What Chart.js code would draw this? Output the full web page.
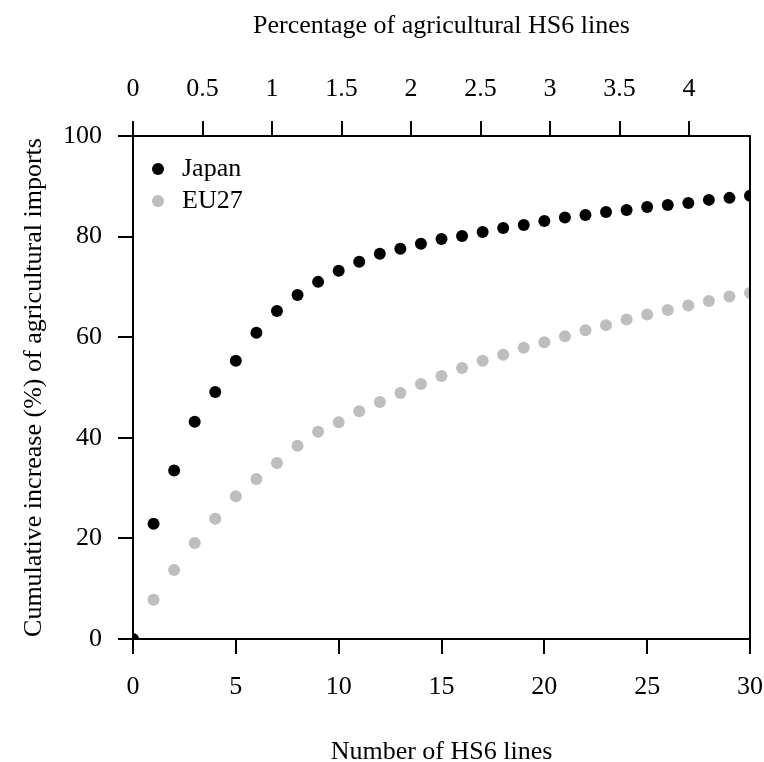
<!DOCTYPE html>
<html>
<head>
<meta charset="utf-8">
<script src="https://cdn.jsdelivr.net/npm/chart.js@4.4.1/dist/chart.umd.min.js"></script>
<style>
  html, body { margin: 0; padding: 0; background: #fff; }
  canvas { display: block; }
</style>
</head>
<body>
<canvas id="cumChart" width="764" height="762"></canvas>
<script>
// number of HS6 lines (bottom axis)
const hs6Lines = [0, 1, 2, 3, 4, 5, 6, 7, 8, 9, 10, 11, 12, 13, 14, 15,
                  16, 17, 18, 19, 20, 21, 22, 23, 24, 25, 26, 27, 28, 29, 30];
// cumulative increase (%) of agricultural imports
const japanValues = [0, 22.9, 33.5, 43.2, 49.1, 55.3, 60.9, 65.2, 68.4, 71.0, 73.2,
                     75.0, 76.6, 77.6, 78.6, 79.5, 80.1, 80.9, 81.7, 82.3, 83.1,
                     83.8, 84.3, 84.9, 85.3, 85.9, 86.3, 86.7, 87.3, 87.7, 88.1];
const eu27Values = [0, 7.8, 13.7, 19.1, 23.9, 28.4, 31.8, 35.0, 38.4, 41.2, 43.1,
                    45.3, 47.1, 48.9, 50.7, 52.3, 53.9, 55.3, 56.5, 57.9, 59.0,
                    60.2, 61.4, 62.4, 63.5, 64.5, 65.4, 66.3, 67.2, 68.1, 68.8];
// total agricultural HS6 lines, used for the top percentage axis
const totalAgriLines = 676;

const xTicks = [0, 5, 10, 15, 20, 25, 30];
const yTicks = [0, 20, 40, 60, 80, 100];
const pctTicks = [0, 0.5, 1, 1.5, 2, 2.5, 3, 3.5, 4];

Chart.defaults.font.family = '"Liberation Serif", "Times New Roman", serif';
Chart.defaults.font.size = 26;
Chart.defaults.color = '#000';

const toPoints = vals => vals.map((v, i) => ({ x: hs6Lines[i], y: v }));

// box around the plot area
const frame = {
    id: 'frame',
    afterDatasetsDraw(chart) {
        const a = chart.chartArea;
        const ctx = chart.ctx;
        ctx.save();
        ctx.strokeStyle = '#000';
        ctx.lineWidth = 2;
        ctx.strokeRect(a.left, a.top, a.right - a.left, a.bottom - a.top);
        ctx.restore();
    }
};

// legend drawn inside the top-left corner like the original
const innerLegend = {
    id: 'innerLegend',
    afterDraw(chart) {
        const a = chart.chartArea;
        const ctx = chart.ctx;
        ctx.save();
        ctx.font = '26px "Liberation Serif", serif';
        ctx.textBaseline = 'middle';
        ctx.textAlign = 'left';
        chart.data.datasets.forEach((ds, i) => {
            const cy = a.top + 33 + i * 32;
            ctx.fillStyle = ds.backgroundColor;
            ctx.beginPath();
            ctx.arc(a.left + 25, cy, 6, 0, Math.PI * 2);
            ctx.fill();
            ctx.fillStyle = '#000';
            ctx.fillText(ds.label, a.left + 49, cy);
        });
        ctx.restore();
    }
};

const ctx = document.getElementById('cumChart').getContext('2d');
new Chart(ctx, {
    type: 'scatter',
    data: {
        datasets: [{
            label: 'Japan',
            data: toPoints(japanValues),
            backgroundColor: '#000000',
            borderWidth: 0,
            pointRadius: 6,
            clip: 0
        }, {
            label: 'EU27',
            data: toPoints(eu27Values),
            backgroundColor: '#bebebe',
            borderWidth: 0,
            pointRadius: 6,
            clip: 0
        }]
    },
    options: {
        responsive: false,
        animation: false,
        layout: { padding: { left: 0, top: 0, right: 14, bottom: 0 } },
        plugins: {
            legend: { display: false },
            tooltip: { enabled: false }
        },
        scales: {
            x: {
                type: 'linear',
                position: 'bottom',
                min: 0,
                max: 30,
                afterBuildTicks: s => { s.ticks = xTicks.map(v => ({ value: v })); },
                afterFit: s => { s.height = 123; s.paddingLeft = 0; s.paddingRight = 0; },
                ticks: { padding: 18, autoSkip: false, maxRotation: 0, callback: v => String(v) },
                grid: { drawOnChartArea: false, drawTicks: true, tickLength: 15, color: '#000', lineWidth: 2 },
                border: { display: false },
                title: { display: true, text: 'Number of HS6 lines', padding: { top: 0, bottom: -5.6 } }
            },
            x2: {
                type: 'linear',
                position: 'top',
                min: 0,
                max: 30 / totalAgriLines * 100,
                afterBuildTicks: s => { s.ticks = pctTicks.map(v => ({ value: v })); },
                afterFit: s => { s.height = 136; s.paddingLeft = 0; s.paddingRight = 0; },
                ticks: { padding: 16, autoSkip: false, maxRotation: 0, callback: v => String(v) },
                grid: { drawOnChartArea: false, drawTicks: true, tickLength: 15, color: '#000', lineWidth: 2 },
                border: { display: false },
                title: { display: true, text: 'Percentage of agricultural HS6 lines', padding: { top: 10.4, bottom: 0 } }
            },
            y: {
                type: 'linear',
                position: 'left',
                min: 0,
                max: 100,
                afterBuildTicks: s => { s.ticks = yTicks.map(v => ({ value: v })); },
                afterFit: s => { s.width = 133; s.paddingTop = 0; s.paddingBottom = 0; },
                ticks: { padding: 16, autoSkip: false, callback: v => String(v) },
                grid: { drawOnChartArea: false, drawTicks: true, tickLength: 15, color: '#000', lineWidth: 2 },
                border: { display: false },
                title: { display: true, text: 'Cumulative increase (%) of agricultural imports', padding: { top: 18.4, bottom: 0 } }
            }
        }
    },
    plugins: [frame, innerLegend]
});
</script>
</body>
</html>
